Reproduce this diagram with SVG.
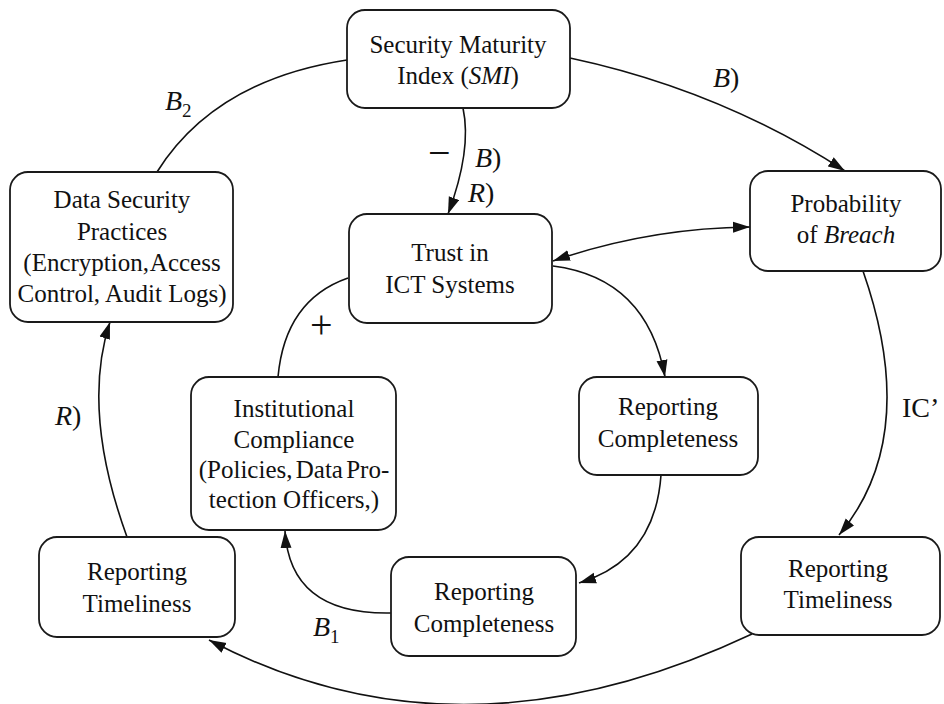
<svg xmlns="http://www.w3.org/2000/svg" width="944" height="704" viewBox="0 0 944 704">
  <defs>
    <marker id="arrow" markerUnits="userSpaceOnUse" markerWidth="18" markerHeight="12" refX="17" refY="5.5" orient="auto-start-reverse" viewBox="0 0 18 11">
      <path d="M0,0 L17,5.5 L0,11 Z" fill="#111"/>
    </marker>
    <style>
      .box { fill: #fff; stroke: #1a1a1a; stroke-width: 1.8; }
      .lbl { font-size: 25px; fill: #111; text-anchor: middle; }
      .edge { fill: none; stroke: #111; stroke-width: 1.6; }
      .tag { font-size: 28px; fill: #111; }
      .sign { font-size: 40px; fill: #111; }
      .sub { font-size: 19px; }
      .it { font-style: italic; }
    </style>
  </defs>
  <rect width="944" height="704" fill="#fff"/>

  <!-- connectors -->
  <g id="connectors" font-family="'Liberation Serif', 'DejaVu Serif', serif">
    <path class="edge" d="M463,108 Q472,150 448,214" marker-end="url(#arrow)"/>
    <path class="edge" d="M570,58 Q720,90 845,171" marker-end="url(#arrow)"/>
    <path class="edge" d="M157,172 Q215,80 347,60"/>
    <path class="edge" d="M127,537 Q81,410 110,322" marker-end="url(#arrow)"/>
    <path class="edge" d="M752,634 Q459,772 209,640" marker-end="url(#arrow)"/>
    <path class="edge" d="M863,271 Q921,437 839,535" marker-end="url(#arrow)"/>
    <path class="edge" d="M553,261 Q648,228 750,227" marker-start="url(#arrow)" marker-end="url(#arrow)"/>
    <path class="edge" d="M553,266 Q647,278 665,377" marker-end="url(#arrow)"/>
    <path class="edge" d="M661,475 Q655,560 579,583" marker-end="url(#arrow)"/>
    <path class="edge" d="M391,613 Q290,615 285,531" marker-end="url(#arrow)"/>
    <path class="edge" d="M348,278 Q285,300 278,377"/>

    <!-- loop and polarity tags -->
    <text class="tag" x="165" y="110"><tspan class="it">B</tspan><tspan class="sub" dy="7">2</tspan></text>
    <text class="tag" x="713" y="87"><tspan class="it">B</tspan>)</text>
    <text class="sign" x="428" y="166">−</text>
    <text class="tag" x="475" y="167"><tspan class="it">B</tspan>)</text>
    <text class="tag" x="468" y="202"><tspan class="it">R</tspan>)</text>
    <text class="tag" x="55" y="425"><tspan class="it">R</tspan>)</text>
    <text class="sign" x="310" y="338">+</text>
    <text class="tag" x="313" y="636"><tspan class="it">B</tspan><tspan class="sub" dy="7">1</tspan></text>
    <text class="tag" x="902" y="417">IC’</text>
  </g>

  <!-- nodes -->
  <g font-family="'Liberation Serif', 'DejaVu Serif', serif">
    <g id="smi">
      <rect class="box" x="347" y="10" width="223" height="98" rx="18"/>
      <text class="lbl" x="458" y="53">Security Maturity</text>
      <text class="lbl" x="458" y="84">Index (<tspan class="it">SMI</tspan>)</text>
    </g>
    <g id="data-security">
      <rect class="box" x="10" y="172" width="223" height="150" rx="18"/>
      <text class="lbl" x="122" y="208">Data Security</text>
      <text class="lbl" x="122" y="240">Practices</text>
      <text class="lbl" x="122" y="271" word-spacing="-4">(Encryption, Access</text>
      <text class="lbl" x="122" y="302">Control, Audit Logs)</text>
    </g>
    <g id="trust">
      <rect class="box" x="349" y="214" width="203" height="109" rx="18"/>
      <text class="lbl" x="450" y="261">Trust in</text>
      <text class="lbl" x="450" y="293">ICT Systems</text>
    </g>
    <g id="breach">
      <rect class="box" x="750" y="171" width="191" height="100" rx="18"/>
      <text class="lbl" x="846" y="212">Probability</text>
      <text class="lbl" x="846" y="243">of <tspan class="it">Breach</tspan></text>
    </g>
    <g id="compliance">
      <rect class="box" x="191" y="377" width="205" height="153" rx="18"/>
      <text class="lbl" x="294" y="417">Institutional</text>
      <text class="lbl" x="294" y="448">Compliance</text>
      <text class="lbl" x="294" y="478" word-spacing="-3">(Policies, Data Pro-</text>
      <text class="lbl" x="294" y="508">tection Officers,)</text>
    </g>
    <g id="completeness-upper">
      <rect class="box" x="579" y="377" width="179" height="98" rx="18"/>
      <text class="lbl" x="668" y="415">Reporting</text>
      <text class="lbl" x="668" y="447">Completeness</text>
    </g>
    <g id="timeliness-left">
      <rect class="box" x="39" y="537" width="196" height="100" rx="18"/>
      <text class="lbl" x="137" y="580">Reporting</text>
      <text class="lbl" x="137" y="612">Timeliness</text>
    </g>
    <g id="completeness-lower">
      <rect class="box" x="391" y="557" width="185" height="99" rx="18"/>
      <text class="lbl" x="484" y="600">Reporting</text>
      <text class="lbl" x="484" y="632">Completeness</text>
    </g>
    <g id="timeliness-right">
      <rect class="box" x="741" y="537" width="199" height="98" rx="18"/>
      <text class="lbl" x="838" y="577">Reporting</text>
      <text class="lbl" x="838" y="608">Timeliness</text>
    </g>
  </g>
</svg>
